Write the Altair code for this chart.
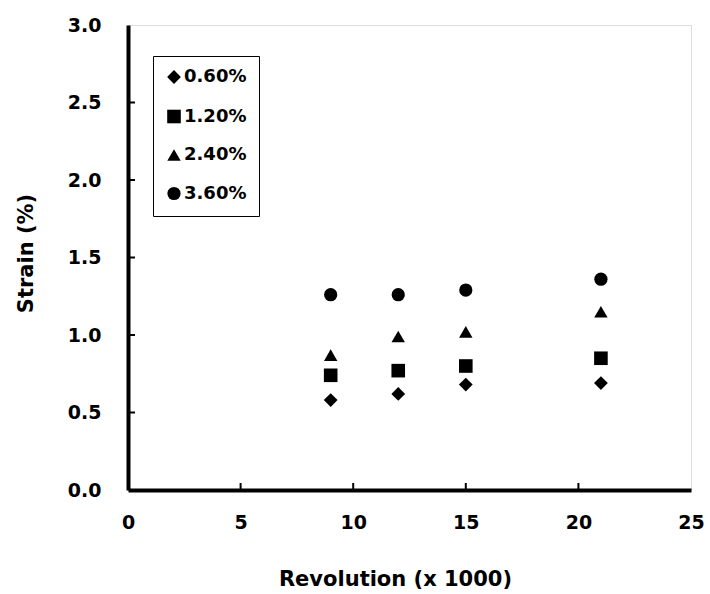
import altair as alt
import pandas as pd

revolutions = [9, 12, 15, 21]
series_names = ["0.60%", "1.20%", "2.40%", "3.60%"]
strain_060 = [0.58, 0.62, 0.68, 0.69]
strain_120 = [0.74, 0.77, 0.80, 0.85]
strain_240 = [0.87, 0.99, 1.02, 1.15]
strain_360 = [1.26, 1.26, 1.29, 1.36]
x_ticks = [5, 10, 15, 20]
y_ticks = [0.5, 1.0, 1.5, 2.0, 2.5]

rows = []
for name, vals in zip(series_names, [strain_060, strain_120, strain_240, strain_360]):
    for r, v in zip(revolutions, vals):
        rows.append({"rev": r, "strain": v, "series": name})
df = pd.DataFrame(rows)

FONT = "DejaVu Sans"

xscale = alt.Scale(domain=[0, 25], nice=False, zero=True)
yscale = alt.Scale(domain=[0, 3.0], nice=False, zero=True)

points = alt.Chart(df).mark_point(filled=True, opacity=1, color="black").encode(
    x=alt.X("rev:Q", scale=xscale,
            axis=alt.Axis(title="Revolution (x 1000)", values=[0, 5, 10, 15, 20, 25],
                          grid=False, ticks=False, labelPadding=23, domainWidth=4,
                          domainColor="black", labelFontSize=19, labelFontWeight="bold",
                          labelFont=FONT, labelColor="black", labelFlush=False,
                          titleFont=FONT, titleFontSize=21, titleFontWeight="bold",
                          titleColor="black", titleX=267, titleY=95,
                          titleBaseline="alphabetic")),
    y=alt.Y("strain:Q", scale=yscale,
            axis=alt.Axis(title="Strain (%)", values=[0, 0.5, 1.0, 1.5, 2.0, 2.5, 3.0],
                          format=".1f", grid=False, ticks=False, labelPadding=27,
                          domainWidth=4, domainColor="black", labelFontSize=19,
                          labelFontWeight="bold", labelFont=FONT, labelColor="black",
                          labelFlush=False, titleFont=FONT, titleFontSize=21,
                          titleFontWeight="bold", titleColor="black", titlePadding=31,
                          titleY=228)),
    shape=alt.Shape("series:N",
                    scale=alt.Scale(domain=series_names,
                                    range=["diamond", "square", "triangle-up", "circle"]),
                    legend=alt.Legend(title=None, orient="none", legendX=25, legendY=31,
                                      strokeColor="black", padding=12,
                                      labelFont=FONT, labelFontSize=18, labelFontWeight="bold",
                                      labelColor="black", rowPadding=19.5, labelOffset=1,
                                      symbolFillColor="black", symbolStrokeColor="black",
                                      fillColor="white")),
    size=alt.Size("series:N",
                  scale=alt.Scale(domain=series_names, range=[190, 175, 240, 140]),
                  legend=alt.Legend(title=None, orient="none", legendX=25, legendY=31)),
)

ytick_df = pd.DataFrame({"v": y_ticks})
xtick_df = pd.DataFrame({"v": x_ticks})

yticks = alt.Chart(ytick_df).mark_rule(color="black", strokeWidth=2).encode(
    y=alt.Y("v:Q", scale=yscale), x=alt.value(0), x2=alt.value(7))
xticks = alt.Chart(xtick_df).mark_rule(color="black", strokeWidth=2).encode(
    x=alt.X("v:Q", scale=xscale), y=alt.value(465), y2=alt.value(458))

chart = alt.layer(points, yticks, xticks).properties(
    width=563, height=465,
    autosize=alt.AutoSizeParams(type="none"),
    padding={"left": 128, "top": 25, "right": 19, "bottom": 104},
).configure_view(stroke="black", strokeWidth=3).configure_legend(
    strokeWidth=1
).configure(background="white")

chart.save("out.html", embed_options={"renderer": "svg", "actions": False})
